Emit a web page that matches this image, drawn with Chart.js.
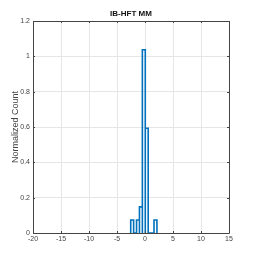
<!DOCTYPE html>
<html><head><meta charset="utf-8">
<script src="https://cdn.jsdelivr.net/npm/chart.js@4/dist/chart.umd.min.js"></script>
<style>html,body{margin:0;padding:0;background:#fff;}#c{display:block;}</style>
</head><body>
<canvas id="c" width="254" height="262"></canvas>
<script>
const chartTitle = "IB-HFT MM";
const yAxisLabel = "Normalized Count";
const binEdges = [-2.55, -2.03, -1.51, -0.99, -0.47, 0.05, 0.57, 1.09, 1.61, 2.13];
const binValues = [0.074, 0, 0.074, 0.148, 1.037, 0.593, 0, 0, 0.074];
const xTicks = [-20, -15, -10, -5, 0, 5, 10, 15];
const yTicks = [0, 0.2, 0.4, 0.6, 0.8, 1, 1.2];

const pts = [];
for (let i = 0; i < binValues.length; i++) {
  pts.push({x: binEdges[i], y: 0});
  pts.push({x: binEdges[i], y: binValues[i]});
  pts.push({x: binEdges[i+1], y: binValues[i]});
  pts.push({x: binEdges[i+1], y: 0});
}

const narrow = "'Liberation Sans Narrow', 'Liberation Sans', Arial, sans-serif";
const regular = "'Liberation Sans', Arial, sans-serif";
const axisColor = '#444';

const boxPlugin = {
  id: 'box',
  afterDraw(chart) {
    const {ctx, chartArea: a, scales} = chart;
    ctx.save();
    ctx.strokeStyle = axisColor;
    ctx.lineWidth = 1;
    ctx.beginPath();
    ctx.moveTo(a.left + 0.5, a.bottom + 0.5);
    ctx.lineTo(a.left + 0.5, a.top + 0.5);
    ctx.lineTo(a.right + 0.5, a.top + 0.5);
    ctx.lineTo(a.right + 0.5, a.bottom + 0.5);
    ctx.lineTo(a.left + 0.5, a.bottom + 0.5);
    ctx.stroke();
    ctx.beginPath();
    const tl = 2;
    yTicks.forEach(v => {
      const y = Math.round(scales.y.getPixelForValue(v)) + 0.5;
      ctx.moveTo(a.left, y); ctx.lineTo(a.left + tl, y);
      ctx.moveTo(a.right, y); ctx.lineTo(a.right - tl, y);
    });
    xTicks.forEach(v => {
      const x = Math.round(scales.x.getPixelForValue(v)) + 0.5;
      ctx.moveTo(x, a.bottom); ctx.lineTo(x, a.bottom - tl);
      ctx.moveTo(x, a.top); ctx.lineTo(x, a.top + tl);
    });
    ctx.stroke();
    // title centered over plot area
    ctx.fillStyle = '#111';
    ctx.font = "bold 8px " + narrow;
    ctx.textAlign = 'center';
    ctx.textBaseline = 'middle';
    ctx.fillText(chartTitle, (a.left + a.right) / 2, 13.5);
    ctx.restore();
  }
};

new Chart(document.getElementById('c'), {
  type: 'line',
  data: {
    datasets: [{
      data: pts,
      borderColor: '#0072BD',
      borderWidth: 1.6,
      pointRadius: 0,
      tension: 0,
      fill: false
    }]
  },
  options: {
    responsive: false,
    animation: false,
    layout: {padding: {left: 0, right: 25, top: 21, bottom: 0}},
    plugins: {
      legend: {display: false},
      tooltip: {enabled: false},
      title: {display: false}
    },
    scales: {
      x: {
        type: 'linear',
        min: -20, max: 15,
        afterBuildTicks(s) { s.ticks = xTicks.map(v => ({value: v})); },
        afterFit(s) { s.height = 29; },
        ticks: {color: '#444', font: {family: narrow, size: 7}, padding: 2, maxRotation: 0, autoSkip: false, callback: v => String(v)},
        grid: {color: '#e6e6e6', lineWidth: 1, drawTicks: false},
        border: {display: false}
      },
      y: {
        type: 'linear',
        min: 0, max: 1.2,
        afterBuildTicks(s) { s.ticks = yTicks.map(v => ({value: v})); },
        afterFit(s) { s.width = 33; },
        ticks: {color: '#444', font: {family: narrow, size: 7}, padding: 3, autoSkip: false, callback: v => String(Math.round(v * 10) / 10)},
        grid: {color: '#e6e6e6', lineWidth: 1, drawTicks: false},
        border: {display: false},
        title: {display: true, text: yAxisLabel, color: '#444', font: {family: regular, size: 9}, padding: {top: 10, bottom: 0}}
      }
    }
  },
  plugins: [boxPlugin]
});
</script>
</body></html>
